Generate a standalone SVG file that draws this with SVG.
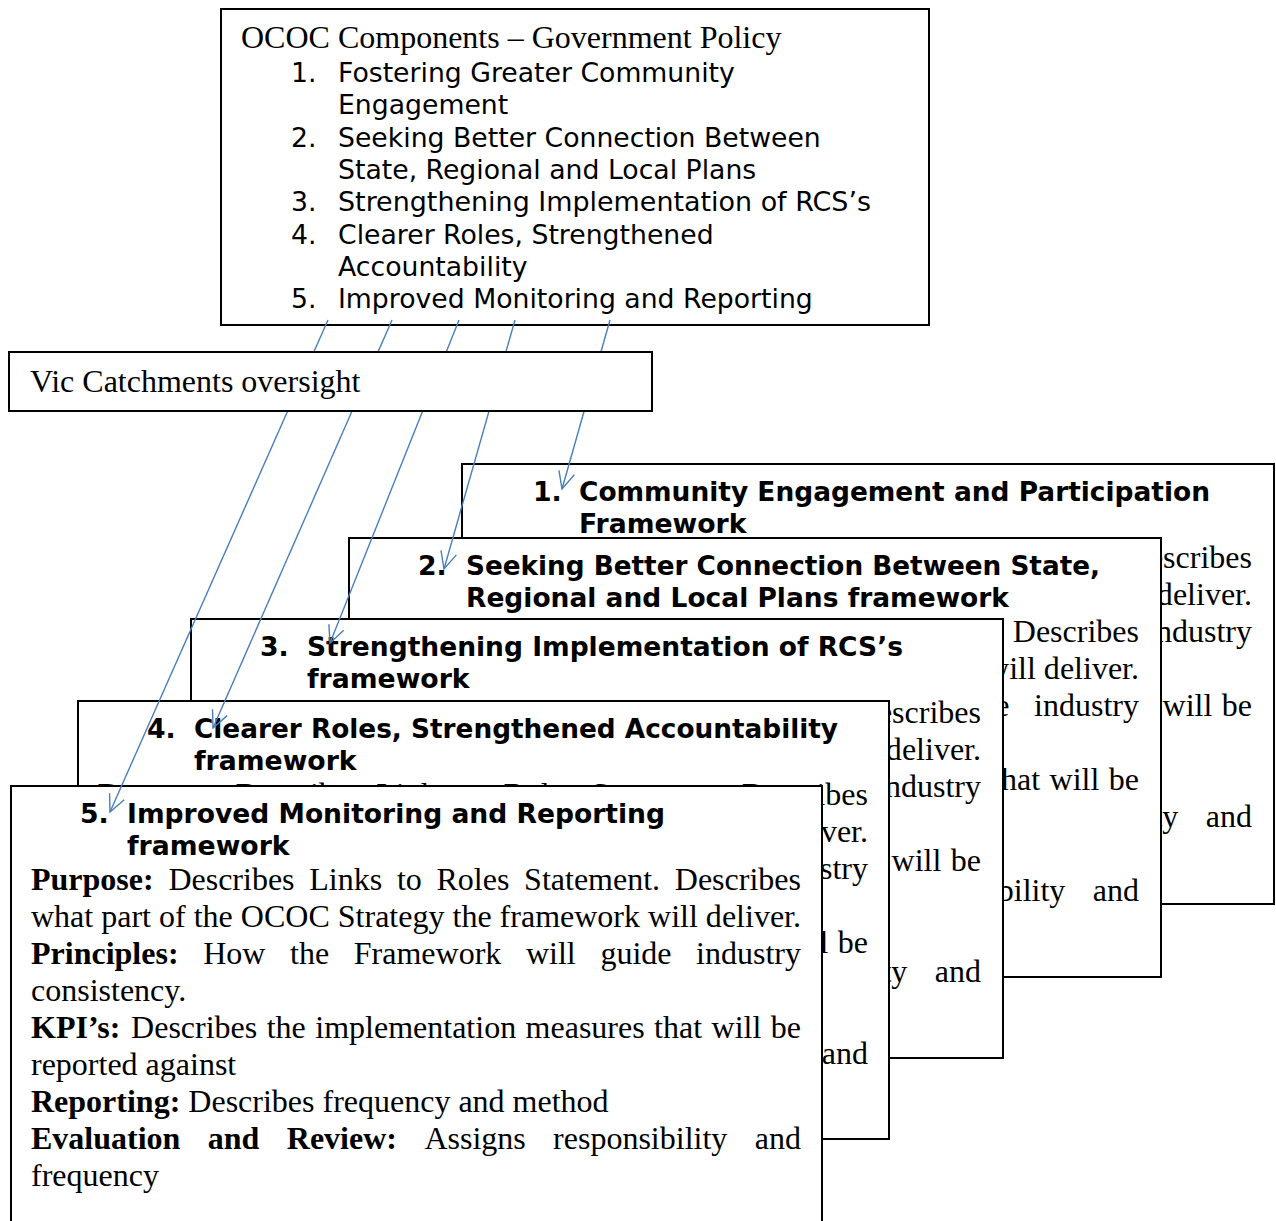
<svg xmlns="http://www.w3.org/2000/svg" xmlns:xlink="http://www.w3.org/1999/xlink" width="1276" height="1221" viewBox="0 0 1276 1221">
<style>
.box{fill:#fff;stroke:#000;stroke-width:2}
.serif{font-family:"Liberation Serif","Times New Roman",serif;font-size:32px;fill:#000}
.b{font-weight:bold}
.sans{font-family:"DejaVu Sans",Verdana,sans-serif;font-size:26.7px;fill:#000}
.hd{font-family:"DejaVu Sans",Verdana,sans-serif;font-size:26.7px;font-weight:bold;fill:#000}
.conn{stroke:#4a7ebb;stroke-width:1.4;fill:none;marker-end:url(#ah)}
</style>
<defs>
<marker id="ah" markerUnits="userSpaceOnUse" markerWidth="20" markerHeight="20" refX="0" refY="0" orient="auto" style="overflow:visible">
<path d="M-17,-8 L0,0 L-17,8" fill="none" stroke="#4a7ebb" stroke-width="1.4"/>
</marker>
<g id="body" class="serif">
<text y="0"><tspan class="b" x="0">Purpose:</tspan><tspan x="137.4">Describes</tspan><tspan x="278.3">Links</tspan><tspan x="365.9">to</tspan><tspan x="405.5">Roles</tspan><tspan x="493.1">Statement.</tspan><tspan x="643.8">Describes</tspan></text>
<text x="0" y="37" textLength="770" lengthAdjust="spacing">what part of the OCOC Strategy the framework will deliver.</text>
<text y="74"><tspan class="b" x="0">Principles:</tspan><tspan x="172.2">How</tspan><tspan x="259.1">the</tspan><tspan x="322.8">Framework</tspan><tspan x="494.9">will</tspan><tspan x="569.4">guide</tspan><tspan x="665.1">industry</tspan></text>
<text x="0" y="111">consistency.</text>
<text y="148"><tspan class="b" x="0">KPI’s:</tspan><tspan x="100.1">Describes</tspan><tspan x="235.7">the</tspan><tspan x="284.3">implementation</tspan><tspan x="494.6">measures</tspan><tspan x="623.1">that</tspan><tspan x="680.6">will</tspan><tspan x="739.8">be</tspan></text>
<text x="0" y="185">reported against</text>
<text x="0" y="222"><tspan class="b">Reporting:</tspan> Describes frequency and method</text>
<text y="259"><tspan class="b" x="0">Evaluation</tspan><tspan class="b" x="176.8">and</tspan><tspan class="b" x="255.8">Review:</tspan><tspan x="393.4">Assigns</tspan><tspan x="522.1">responsibility</tspan><tspan x="723.8">and</tspan></text>
<text x="0" y="296">frequency</text>
</g>
</defs>

<g id="ococ-components">
<rect class="box" x="221" y="9" width="708" height="316"/>
<text class="serif" x="241" y="48">OCOC Components – Government Policy</text>
<g class="sans">
<text x="291" y="82">1.</text><text x="338" y="82">Fostering Greater Community</text>
<text x="338" y="114.3">Engagement</text>
<text x="291" y="146.6">2.</text><text x="338" y="146.6">Seeking Better Connection Between</text>
<text x="338" y="178.9">State, Regional and Local Plans</text>
<text x="291" y="211.2">3.</text><text x="338" y="211.2" textLength="533" lengthAdjust="spacingAndGlyphs">Strengthening Implementation of RCS’s</text>
<text x="291" y="243.5">4.</text><text x="338" y="243.5">Clearer Roles, Strengthened</text>
<text x="338" y="275.8">Accountability</text>
<text x="291" y="308.1">5.</text><text x="338" y="308.1">Improved Monitoring and Reporting</text>
</g>
</g>

<g id="framework-1">
<rect class="box" x="462" y="464" width="812" height="440"/>
<text class="hd" x="533" y="501">1.</text>
<text class="hd" x="579" y="501" textLength="631" lengthAdjust="spacingAndGlyphs">Community Engagement and Participation</text>
<text class="hd" x="579" y="533">Framework</text>
<use xlink:href="#body" x="482" y="568"/>
</g>

<g id="framework-2">
<rect class="box" x="349" y="538" width="812" height="439"/>
<text class="hd" x="418" y="575">2.</text>
<text class="hd" x="466" y="575" textLength="634" lengthAdjust="spacingAndGlyphs">Seeking Better Connection Between State,</text>
<text class="hd" x="466" y="607" textLength="543" lengthAdjust="spacingAndGlyphs">Regional and Local Plans framework</text>
<use xlink:href="#body" x="369" y="642"/>
</g>

<g id="framework-3">
<rect class="box" x="191" y="619" width="812" height="439"/>
<text class="hd" x="260" y="656">3.</text>
<text class="hd" x="307" y="656" textLength="596" lengthAdjust="spacingAndGlyphs">Strengthening Implementation of RCS’s</text>
<text class="hd" x="307" y="688">framework</text>
<use xlink:href="#body" x="211" y="723"/>
</g>

<g id="framework-4">
<rect class="box" x="78" y="701" width="811" height="438"/>
<text class="hd" x="147" y="738">4.</text>
<text class="hd" x="194" y="738" textLength="644" lengthAdjust="spacingAndGlyphs">Clearer Roles, Strengthened Accountability</text>
<text class="hd" x="194" y="770">framework</text>
<use xlink:href="#body" x="98" y="805"/>
</g>

<g id="framework-5">
<rect class="box" x="11" y="786" width="811" height="450"/>
<text class="hd" x="80" y="823">5.</text>
<text class="hd" x="127" y="823" textLength="538" lengthAdjust="spacingAndGlyphs">Improved Monitoring and Reporting</text>
<text class="hd" x="127" y="855">framework</text>
<use xlink:href="#body" x="31" y="890"/>
</g>

<g id="connectors">
<line class="conn" x1="328" y1="320" x2="110" y2="812"/>
<line class="conn" x1="392" y1="320" x2="213" y2="728"/>
<line class="conn" x1="459" y1="320" x2="330" y2="643"/>
<line class="conn" x1="515" y1="320" x2="444" y2="569"/>
<line class="conn" x1="610" y1="320" x2="562" y2="489"/>
</g>

<g id="vic-catchments">
<rect class="box" x="9" y="352" width="643" height="59"/>
<text class="serif" x="30" y="392">Vic Catchments oversight</text>
</g>
</svg>
